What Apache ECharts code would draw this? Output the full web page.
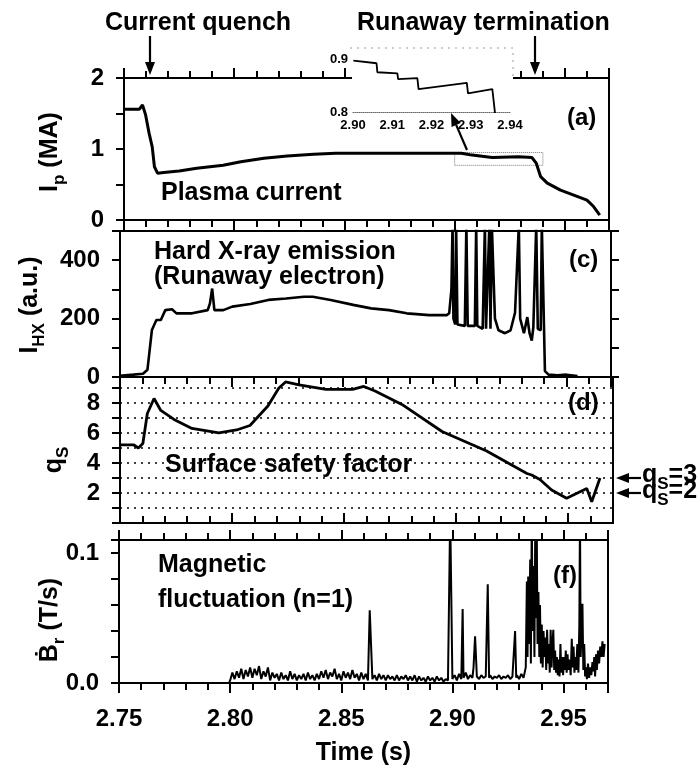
<!DOCTYPE html>
<html>
<head>
<meta charset="utf-8">
<script src="https://cdn.jsdelivr.net/npm/echarts@6/dist/echarts.min.js"></script>
<style>
html, body { margin: 0; background: #fff; }
#main { width: 700px; height: 773px; }
</style>
</head>
<body>
<div id="main"></div>
<script>
// time axis (s)
var timeRange = [2.75, 2.97];
var timeTicks = ['2.75', '2.80', '2.85', '2.90', '2.95'];

// (a) plasma current (MA)
var ipTime = [2.750, 2.757, 2.7584, 2.7598, 2.7614, 2.7628, 2.7638, 2.7652, 2.768, 2.775, 2.783, 2.795, 2.803, 2.8135,
    2.824, 2.836, 2.846, 2.903, 2.907, 2.917, 2.929, 2.935, 2.937, 2.939, 2.942, 2.948, 2.954, 2.960, 2.963, 2.9658];
var ipValue = [1.56, 1.56, 1.62, 1.48, 1.22, 1.03, 0.75, 0.66, 0.67, 0.69, 0.73, 0.77, 0.82, 0.87,
    0.90, 0.925, 0.94, 0.94, 0.92, 0.88, 0.89, 0.88, 0.80, 0.61, 0.52, 0.42, 0.35, 0.28, 0.19, 0.07];
var zoomBox = [[2.90, 0.77], [2.94, 0.95]];

// (a) inset, 2.90 - 2.94 s
var insetTime = [2.9001, 2.9060, 2.9062, 2.9113, 2.9115, 2.9164, 2.9167, 2.9290, 2.9293, 2.9355, 2.9360, 2.9363];
var insetValue = [0.897, 0.892, 0.875, 0.873, 0.862, 0.864, 0.843, 0.855, 0.835, 0.843, 0.845, 0.79];
var insetTicks = [2.90, 2.94, 0.8, 0.9];

// (c) hard X-ray emission (a.u.)
var hxTime = [2.750, 2.756, 2.7603, 2.7623, 2.7633, 2.7643, 2.7663, 2.7683, 2.7703, 2.7733, 2.7753, 2.7823, 2.7893,
    2.7903, 2.7913, 2.7923, 2.7963, 2.8003, 2.8084, 2.8164, 2.8244, 2.8324, 2.8364, 2.8444, 2.8545, 2.8625, 2.8705,
    2.8785, 2.8885, 2.8965, 2.8975, 2.8985, 2.8990, 2.8994, 2.9002, 2.9006, 2.9012, 2.9045, 2.9052, 2.9058, 2.9090,
    2.9096, 2.9101, 2.9125, 2.9135, 2.9140, 2.9148, 2.9155, 2.9160, 2.9166, 2.9180, 2.9196, 2.9225, 2.9250, 2.9270,
    2.9287, 2.9293, 2.9310, 2.9325, 2.9335, 2.9345, 2.9352, 2.9365, 2.9372, 2.9385, 2.9390, 2.9398, 2.9404, 2.9420,
    2.9460, 2.9500, 2.9550];
var hxValue = [4, 8, 11, 25, 93, 161, 195, 195, 229, 232, 218, 218, 229,
    252, 303, 229, 229, 241, 250, 264, 269, 275, 275, 264, 247, 235, 229,
    218, 212, 212, 218, 300, 520, 200, 180, 520, 180, 175, 520, 175, 175,
    520, 175, 165, 520, 165, 160, 520, 165, 520, 200, 160, 150, 160, 220,
    520, 200, 150, 205, 150, 125, 170, 520, 165, 160, 520, 520, 20, 8,
    6, 8, 3];

// (d) surface safety factor
var qTime = [2.7502, 2.7562, 2.7582, 2.7602, 2.7622, 2.7652, 2.7682, 2.7741, 2.7821, 2.7901, 2.7941, 2.8020, 2.8080,
    2.8160, 2.8209, 2.8239, 2.8299, 2.8419, 2.8538, 2.8588, 2.8638, 2.8758, 2.8937, 2.9136, 2.9316, 2.9337, 2.9374,
    2.9426, 2.9493, 2.9583, 2.9605, 2.9642];
var qValue = [5.2, 5.2, 5.0, 5.3, 7.3, 8.3, 7.5, 6.9, 6.3, 6.1, 6.0, 6.2, 6.5,
    7.8, 9.0, 9.4, 9.2, 8.9, 8.9, 9.1, 8.8, 7.9, 6.1, 4.8, 3.3, 3.2, 2.9,
    2.2, 1.65, 2.3, 1.42, 3.0];
var qMarks = [3, 2];

// (f) magnetic fluctuation, values in 1e-3 T/s
var brTime = [2.750, 2.7995,
    2.800, 2.801, 2.802, 2.803, 2.804, 2.805, 2.806, 2.807, 2.808, 2.809,
    2.810, 2.811, 2.812, 2.813, 2.814, 2.815, 2.816, 2.817, 2.818, 2.819,
    2.820, 2.821, 2.822, 2.823, 2.824, 2.825, 2.826, 2.827, 2.828, 2.829,
    2.830, 2.831, 2.832, 2.833, 2.834, 2.835, 2.836, 2.837, 2.838, 2.839,
    2.840, 2.841, 2.842, 2.843, 2.844, 2.845, 2.846, 2.847, 2.848, 2.849,
    2.850, 2.851, 2.852, 2.853, 2.854, 2.855, 2.856, 2.857, 2.858, 2.859,
    2.860, 2.861, 2.862, 2.8628, 2.864, 2.865, 2.866, 2.867, 2.868, 2.869,
    2.870, 2.871, 2.872, 2.873, 2.874, 2.875, 2.876, 2.877, 2.878, 2.879,
    2.880, 2.881, 2.882, 2.883, 2.884, 2.885, 2.886, 2.887, 2.888, 2.889,
    2.890, 2.891, 2.892, 2.893, 2.894, 2.895, 2.896, 2.897, 2.898, 2.899,
    2.900, 2.901, 2.902, 2.903, 2.904, 2.9046, 2.905, 2.906, 2.907, 2.908, 2.909, 2.9095, 2.9102, 2.911,
    2.912, 2.913, 2.914, 2.915, 2.9159, 2.9165, 2.917, 2.918, 2.919, 2.920, 2.921, 2.922, 2.923, 2.924,
    2.925, 2.926, 2.927, 2.9282, 2.9287, 2.929, 2.930, 2.931, 2.932, 2.933,
    2.9335, 2.9338, 2.9341, 2.9345, 2.9350, 2.9353, 2.9357, 2.9361, 2.9365, 2.9369, 2.9373, 2.9376, 2.9379,
    2.9383, 2.9387, 2.9391, 2.9394, 2.9398, 2.9402, 2.9406, 2.9410, 2.9414, 2.9418, 2.9422, 2.9426, 2.9430,
    2.9434, 2.9438, 2.9442, 2.9446, 2.9450, 2.9454, 2.9458, 2.9462, 2.9466, 2.9470, 2.9474, 2.9478, 2.9482,
    2.9486, 2.9490, 2.9494, 2.9498, 2.9502, 2.9506, 2.9510, 2.9514, 2.9518, 2.9522, 2.9527, 2.9532, 2.9537,
    2.9541, 2.9545, 2.9549, 2.9553, 2.9557, 2.9562, 2.9567, 2.9571, 2.9574, 2.9577, 2.9581, 2.9585, 2.9589,
    2.9593, 2.9597, 2.9601, 2.9605, 2.9610, 2.9615, 2.9620, 2.9625, 2.9630, 2.9634, 2.9638, 2.9642, 2.9646,
    2.9650, 2.9655, 2.9660, 2.9665, 2.9670, 2.9675, 2.9680, 2.9685];
var brMilli = [0, 0,
    2, 8, 3, 9, 4, 11, 3, 10, 5, 12,
    4, 11, 6, 13, 3, 9, 5, 12, 2, 8,
    4, 7, 2, 8, 3, 6, 2, 9, 3, 7,
    2, 6, 3, 7, 2, 8, 3, 6, 2, 7,
    3, 9, 4, 10, 3, 8, 5, 11, 3, 7,
    2, 9, 4, 8, 3, 10, 4, 7, 2, 8,
    3, 7, 2, 56, 3, 6, 2, 7, 3, 6,
    2, 6, 3, 5, 2, 6, 2, 5, 3, 6,
    2, 5, 2, 6, 1, 5, 2, 4, 1, 5,
    2, 4, 1, 5, 2, 4, 1, 3, 2, 130,
    3, 6, 2, 7, 3, 57, 4, 8, 3, 6, 4, 12, 36, 5,
    3, 6, 4, 5, 76, 4, 6, 3, 5, 4, 6, 3, 5, 4,
    6, 3, 5, 40, 4, 6, 3, 7, 4, 12,
    78, 20, 82, 30, 95, 15, 130, 40, 90, 20, 130, 50, 130,
    30, 70, 20, 60, 15, 45, 12, 40, 20, 35, 10, 41, 15,
    30, 8, 41, 12, 30, 41, 10, 25, 8, 20, 6, 18, 5,
    30, 8, 20, 6, 20, 10, 25, 8, 22, 10, 18, 6, 34,
    12, 28, 8, 20, 10, 30, 8, 45, 130, 20, 40, 61, 10,
    30, 5, 12, 3, 15, 4, 12, 6, 16, 9, 20, 5, 22,
    10, 25, 15, 28, 20, 32, 20, 30];

function zip(xs, ys, k) {
    return xs.map(function (x, i) { return [x, ys[i] * (k || 1)]; });
}

var FONT = "'Liberation Sans', Arial, sans-serif";
var BLACK = '#000';

var grids = [
    {left: 124, right: 91, top: 78, height: 142},
    {left: 120, right: 89, top: 231, height: 146},
    {left: 120, right: 87, top: 377, height: 146},
    {left: 119, right: 92, top: 540, height: 143},
    {left: 353, right: 190, top: 59, height: 53}
];
grids.forEach(function (g, i) {
    g.show = i < 4;
    g.borderColor = BLACK;
    g.borderWidth = 2;
    g.outerBoundsMode = 'none';
});

var xAxes = [];
// major ticks every 0.05 s, minor every 0.01 s
function addX(g, pos, inside, labels) {
    var ax = {
        gridIndex: g, type: 'value', position: pos,
        min: timeRange[0], max: timeRange[1], interval: 0.05,
        axisLine: {show: true, onZero: false, lineStyle: {color: BLACK, width: 2}},
        axisTick: {show: true, inside: inside, length: 10, lineStyle: {color: BLACK, width: 2}},
        minorTick: {show: true, splitNumber: 5, length: 7, lineStyle: {color: BLACK, width: 2}},
        axisLabel: {show: false},
        splitLine: {show: false}
    };
    if (labels) {
        ax.axisLabel = {
            show: true, margin: 24, color: BLACK, fontSize: 24, fontWeight: 'bold', fontFamily: FONT,
            formatter: function (v) {
                var s = v.toFixed(2);
                return timeTicks.indexOf(s) >= 0 ? s : '';
            }
        };
        ax.name = 'Time (s)';
        ax.nameLocation = 'middle';
        ax.nameGap = 58;
        ax.nameTextStyle = {color: BLACK, fontSize: 25, fontWeight: 'bold', fontFamily: FONT};
    }
    xAxes.push(ax);
    return xAxes.length - 1;
}

var mainX = [];
mainX.push(addX(0, 'bottom', false, false));   // (a)
addX(0, 'top', false, false);
mainX.push(addX(1, 'bottom', false, false));   // (c)
mainX.push(addX(2, 'bottom', true, false));    // (d)
mainX.push(addX(3, 'bottom', false, true));    // (f)
addX(3, 'top', false, false);
// inset
var insetX = xAxes.length;
xAxes.push({
    gridIndex: 4, type: 'value', min: insetTicks[0], max: insetTicks[1], interval: 0.01, z: 5,
    axisLine: {show: true, onZero: false, lineStyle: {color: '#666', width: 1, type: 'dotted'}},
    axisTick: {show: false},
    axisLabel: {margin: 7, color: BLACK, fontSize: 13, fontWeight: 'bold', fontFamily: FONT,
        formatter: function (v) { return v.toFixed(2); }},
    splitLine: {show: false}
});

var tickLabel = {color: BLACK, fontSize: 24, fontWeight: 'bold', fontFamily: FONT, margin: 20};
function yAx(g, min, max, interval, fmt, extra) {
    var ax = {
        gridIndex: g, type: 'value', min: min, max: max, interval: interval,
        axisLine: {show: true, onZero: false, lineStyle: {color: BLACK, width: 2}},
        axisTick: {show: true, length: 8, lineStyle: {color: BLACK, width: 2}},
        axisLabel: Object.assign({formatter: fmt}, tickLabel),
        splitLine: {show: false}
    };
    return Object.assign(ax, extra || {});
}
function near(v, list) {
    for (var i = 0; i < list.length; i++) if (Math.abs(v - list[i]) < 1e-6) return true;
    return false;
}

var yAxes = [
    yAx(0, 0, 2, 0.5, function (v) { return near(v, [0, 1, 2]) ? String(Math.round(v)) : ''; }),
    yAx(1, 0, 500, 100, function (v) { return near(v, [0, 200, 400]) ? String(v) : ''; }),
    yAx(1, 0, 500, 100, '', {position: 'right', axisLabel: {show: false}}),
    yAx(2, 0, 9.73, 1, function (v) { return near(v, [2, 4, 6, 8]) ? String(v) : ''; },
        {splitLine: {show: true, lineStyle: {color: BLACK, width: 1.5, type: [2, 5]}}}),
    yAx(3, 0, 0.11, 0.02, function (v) { return near(v, [0]) ? '0.0' : (near(v, [0.1]) ? '0.1' : ''); }),
    {
        gridIndex: 4, type: 'value', min: insetTicks[2], max: insetTicks[3], interval: 0.1, z: 5,
        axisLine: {show: false}, axisTick: {show: false}, splitLine: {show: false},
        axisLabel: {margin: 5, color: BLACK, fontSize: 13, fontWeight: 'bold', fontFamily: FONT,
            formatter: function (v) { return v.toFixed(1); }}
    }
];

function lineSeries(xi, yi, data, w, extra) {
    return Object.assign({
        type: 'line', xAxisIndex: xi, yAxisIndex: yi, data: data,
        showSymbol: false, symbol: 'none', clip: true,
        lineStyle: {color: BLACK, width: w}
    }, extra || {});
}

var series = [
    lineSeries(mainX[0], 0, zip(ipTime, ipValue), 3, {
        markArea: {
            silent: true,
            itemStyle: {color: 'rgba(0,0,0,0)', borderColor: '#777', borderWidth: 1, borderType: 'dotted'},
            data: [[{coord: zoomBox[0]}, {coord: zoomBox[1]}]]
        }
    }),
    lineSeries(mainX[1], 1, zip(hxTime, hxValue), 2.6),
    lineSeries(mainX[2], 3, zip(qTime, qValue), 2.8),
    lineSeries(mainX[3], 4, zip(brTime, brMilli, 0.001), 2),
    lineSeries(insetX, 5, zip(insetTime, insetValue), 1.8, {z: 6})
];

function txt(s, x, y, size, extra) {
    return Object.assign({
        type: 'text', z: 10,
        style: {text: s, x: x, y: y, fill: BLACK, fontSize: size, fontWeight: 'bold', fontFamily: FONT,
            align: 'left', verticalAlign: 'middle'}
    }, extra || {});
}
var subRich = {
    b: {fontSize: 25, fontWeight: 'bold', fontFamily: FONT, lineHeight: 36, verticalAlign: 'middle'},
    s: {fontSize: 17, fontWeight: 'bold', fontFamily: FONT, lineHeight: 17, verticalAlign: 'bottom'}
};
function richTxt(s, x, y, rot) {
    return {
        type: 'text', z: 10, x: x, y: y, rotation: rot || 0,
        style: {text: s, x: 0, y: 0, fill: BLACK, rich: subRich,
            align: rot ? 'center' : 'left', verticalAlign: 'middle'}
    };
}
function arrow(x1, y1, x2, y2) {
    var a = Math.atan2(y2 - y1, x2 - x1), hl = 13, hw = 5;
    var bx = x2 - hl * Math.cos(a), by = y2 - hl * Math.sin(a);
    var px = -Math.sin(a) * hw, py = Math.cos(a) * hw;
    return [
        {type: 'line', z: 10, shape: {x1: x1, y1: y1, x2: bx, y2: by}, style: {stroke: BLACK, lineWidth: 2.2}},
        {type: 'polygon', z: 10, shape: {points: [[x2, y2], [bx + px, by + py], [bx - px, by - py]]}, style: {fill: BLACK}}
    ];
}

var elements = [
    // white patch where the inset breaks the top axis of (a)
    {type: 'rect', z: 4, shape: {x: 352, y: 42, width: 161, height: 38}, style: {fill: '#fff'}},
    {type: 'polyline', z: 4, shape: {points: [[350, 48], [513, 48], [513, 77]]},
        style: {stroke: '#999', lineWidth: 1, lineDash: [2, 5], fill: null}},
    txt('Current quench', 105, 23, 25),
    txt('Runaway termination', 357, 23, 25),
    txt('(a)', 567, 118, 24),
    txt('Plasma current', 161, 193, 25),
    txt('Hard X-ray emission', 154, 252, 25),
    txt('(Runaway electron)', 154, 277, 25),
    txt('(c)', 569, 260, 24),
    txt('(d)', 568, 403, 24),
    txt('Surface safety factor', 165, 465, 25),
    txt('Magnetic', 158, 565, 25),
    txt('fluctuation (n=1)', 158, 600, 25),
    txt('(f)', 553, 576, 24),
    richTxt('{b|I}{s|p}{b| (MA)}', 50, 152, Math.PI / 2),
    richTxt('{b|I}{s|HX}{b| (a.u.)}', 30, 305, Math.PI / 2),
    richTxt('{b|q}{s|S}', 54, 460, Math.PI / 2),
    richTxt('{b|\u1E02}{s|r}{b| (T/s)}', 50, 620, Math.PI / 2),
    richTxt('{b|q}{s|S}{b|=' + qMarks[0] + '}', 642, 475),
    richTxt('{b|q}{s|S}{b|=' + qMarks[1] + '}', 642, 491)
];
elements = elements
    .concat(arrow(150, 36, 150, 75))
    .concat(arrow(535, 36, 535, 75))
    .concat(arrow(467, 150, 451, 113))
    .concat(arrow(641, 478, 616, 478))
    .concat(arrow(641, 493, 616, 493));

var chart = echarts.init(document.getElementById('main'));
chart.setOption({
    animation: false,
    backgroundColor: '#fff',
    grid: grids,
    xAxis: xAxes,
    yAxis: yAxes,
    series: series,
    graphic: {elements: elements}
});
</script>
</body>
</html>
